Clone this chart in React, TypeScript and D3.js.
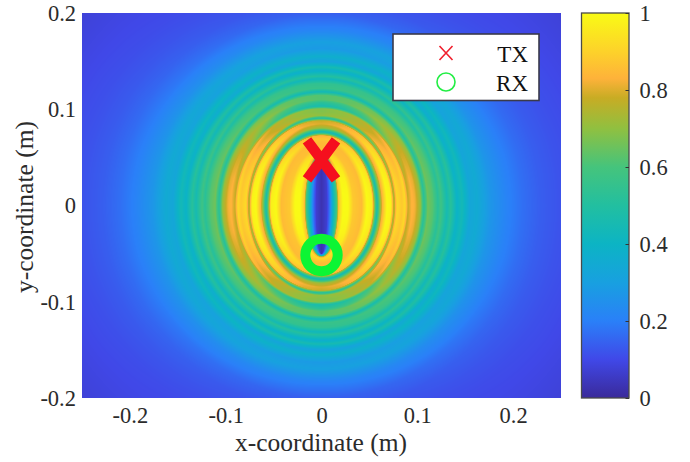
import * as d3 from 'd3';
import { useRef, useEffect } from 'react';

// --- Data ---
const xTicks = [-0.2, -0.1, 0, 0.1, 0.2];
const yTicks = [-0.2, -0.1, 0, 0.1, 0.2];
const colorTicks = [0, 0.2, 0.4, 0.6, 0.8, 1];

const colorStops = [0, 0.1, 0.2, 0.3, 0.4, 0.5, 0.6, 0.7, 0.78, 0.83, 0.9, 1];
const colorHexes = ['#3a2a9a', '#4048e8', '#2a80f8', '#18a0e0', '#0cb4c4', '#22bfa0', '#45c47c', '#90c040', '#c8ac24', '#feb23a', '#fdd22a', '#f9fb15'];

// rings are ellipses around TX and RX, indexed by where they cross the x axis (m)
const ringStops = [0, 0.0057, 0.009, 0.012, 0.016, 0.018, 0.0225, 0.0277, 0.033, 0.042, 0.0475, 0.0527, 0.056, 0.058, 0.06, 0.0632, 0.0684, 0.0725, 0.0757, 0.0788, 0.084, 0.0872, 0.0903, 0.0945, 0.0976, 0.103, 0.107, 0.111, 0.1164, 0.1216, 0.1247, 0.131, 0.135, 0.1414, 0.1467, 0.155, 0.1623, 0.176, 0.1936, 0.21, 0.228, 0.249, 0.316];
// level of each ring on the x axis
const sideValues = [0.03, 0.07, 0.2, 0.4, 0.6, 0.88, 1, 1, 0.88, 0.85, 1, 0.97, 0.62, 0.47, 0.62, 0.82, 1, 0.98, 0.74, 0.92, 0.88, 0.92, 0.78, 0.84, 0.82, 0.72, 0.52, 0.66, 0.62, 0.52, 0.58, 0.45, 0.52, 0.39, 0.44, 0.33, 0.35, 0.27, 0.21, 0.17, 0.14, 0.12, 0.08];
// level of the same ring on the y axis
const topValues = [0.03, 0.05, 0.15, 0.3, 0.5, 0.75, 0.92, 0.88, 0.85, 0.85, 0.87, 0.83, 0.55, 0.43, 0.55, 0.72, 0.8, 0.78, 0.5, 0.7, 0.68, 0.68, 0.46, 0.52, 0.62, 0.62, 0.43, 0.56, 0.54, 0.42, 0.5, 0.37, 0.45, 0.31, 0.37, 0.28, 0.3, 0.21, 0.14, 0.11, 0.1, 0.09, 0.08];
// how far a point leans to the y-axis level, by angle around the ellipse (deg)
const angleStops = [0, 15, 30, 45, 60, 75, 90];
const angleBlend = [0, 0.04, 0.18, 0.42, 0.68, 0.9, 1];

const focusGap = 0.05;
const txPoint = [0, 0.0475];
const rxPoint = [0, -0.0515];
const legendLabels = ['TX', 'RX'];

export default function App() {
  const ref = useRef<SVGSVGElement>(null);

  useEffect(() => {
    const width = 690;
    const height = 462;
    const left = 82, right = 561, top = 13, bottom = 398;
    const barLeft = 581.5, barRight = 629;
    const font = "'Liberation Serif', serif";
    const textColor = '#2b2b2b';

    const x = d3.scaleLinear().domain([-0.25, 0.25]).range([left, right]);
    const y = d3.scaleLinear().domain([-0.2, 0.2]).range([bottom, top]);
    const c = d3.scaleLinear().domain([0, 1]).range([bottom, top]);
    const color = d3.scaleLinear<string>().domain(colorStops).range(colorHexes).interpolate(d3.interpolateRgb);

    const side = d3.scaleLinear().domain(ringStops).range(sideValues).clamp(true);
    const over = d3.scaleLinear().domain(ringStops).range(topValues).clamp(true);
    const blend = d3.scaleLinear().domain(angleStops).range(angleBlend);

    // lookup so we dont parse a colour string per pixel
    const lut = d3.range(1024).map(i => d3.rgb(color(i / 1023)));

    const w = right - left, h = bottom - top;
    const canvas = document.createElement('canvas');
    canvas.width = w;
    canvas.height = h;
    const ctx = canvas.getContext('2d')!;
    const img = ctx.createImageData(w, h);
    for (let j = 0; j < h; j++) {
      for (let i = 0; i < w; i++) {
        const px = x.invert(left + i + 0.5);
        const py = y.invert(top + j + 0.5);
        const a = (Math.hypot(px, py - focusGap) + Math.hypot(px, py + focusGap)) / 2;
        const b = Math.sqrt(Math.max(a * a - focusGap * focusGap, 0));
        const t = Math.atan2(Math.abs(py) / a, b > 0 ? Math.abs(px) / b : 1) * 180 / Math.PI;
        const k = blend(t);
        const v = side(b) * (1 - k) + over(b) * k;
        const col = lut[Math.round(Math.min(Math.max(v, 0), 1) * 1023)];
        const o = (j * w + i) * 4;
        img.data[o] = col.r;
        img.data[o + 1] = col.g;
        img.data[o + 2] = col.b;
        img.data[o + 3] = 255;
      }
    }
    ctx.putImageData(img, 0, 0);

    const svg = d3.select(ref.current)
      .attr('width', width)
      .attr('height', height)
      .attr('viewBox', `0 0 ${width} ${height}`)
      .style('position', 'absolute')
      .style('left', 0)
      .style('top', 0)
      .style('font-family', font);

    svg.selectAll('*').remove();

    svg.append('rect').attr('width', width).attr('height', height).attr('fill', '#fff');

    svg.append('image')
      .attr('x', left).attr('y', top).attr('width', w).attr('height', h)
      .attr('href', canvas.toDataURL());

    // --- Axes ---
    const styleTicks = g => g.selectAll('.tick text')
      .attr('font-size', 22.5)
      .attr('font-family', font)
      .attr('fill', textColor);

    svg.append('g')
      .attr('transform', `translate(0,${bottom})`)
      .call(d3.axisBottom(x).tickValues(xTicks).tickSize(0).tickFormat(d => String(d)))
      .call(g => g.select('.domain').remove())
      .call(styleTicks)
      .call(g => g.selectAll('.tick text').attr('y', 25).attr('dy', 0));

    svg.append('g')
      .attr('transform', `translate(${left},0)`)
      .call(d3.axisLeft(y).tickValues(yTicks).tickSize(0).tickFormat(d => String(d)))
      .call(g => g.select('.domain').remove())
      .call(styleTicks)
      .call(g => g.selectAll('.tick text').attr('x', -6).attr('dy', '0.33em'));

    svg.append('text')
      .attr('x', 321).attr('y', 451)
      .attr('text-anchor', 'middle')
      .attr('font-size', 25.5)
      .attr('fill', textColor)
      .text('x-coordinate (m)');

    svg.append('text')
      .attr('transform', 'translate(33,207) rotate(-90)')
      .attr('text-anchor', 'middle')
      .attr('font-size', 25.5)
      .attr('fill', textColor)
      .text('y-coordinate (m)');

    // --- Markers on the map ---
    const xMark = (cx, cy, rx, ry) => {
      const line = d3.path();
      line.moveTo(cx - rx, cy - ry);
      line.lineTo(cx + rx, cy + ry);
      line.moveTo(cx + rx, cy - ry);
      line.lineTo(cx - rx, cy + ry);
      return line.toString();
    };

    svg.append('path')
      .attr('d', xMark(x(txPoint[0]), y(txPoint[1]), 14.5, 19.5))
      .attr('fill', 'none')
      .attr('stroke', '#f50f1e')
      .attr('stroke-width', 10.5);

    svg.append('circle')
      .attr('cx', x(rxPoint[0]))
      .attr('cy', y(rxPoint[1]))
      .attr('r', 16.2)
      .attr('fill', 'none')
      .attr('stroke', '#0cf534')
      .attr('stroke-width', 10);

    // --- Legend ---
    const legend = svg.append('g');
    legend.append('rect')
      .attr('x', 393).attr('y', 34).attr('width', 146).attr('height', 66.5)
      .attr('fill', '#fff')
      .attr('stroke', '#3a3a4a')
      .attr('stroke-width', 1.6);
    legend.append('path')
      .attr('d', xMark(446, 53, 6.5, 7))
      .attr('fill', 'none')
      .attr('stroke', '#f0202e')
      .attr('stroke-width', 1.6);
    legend.append('circle')
      .attr('cx', 446).attr('cy', 82).attr('r', 9)
      .attr('fill', 'none')
      .attr('stroke', '#22ee44')
      .attr('stroke-width', 1.6);
    legend.selectAll('text.label')
      .data(legendLabels)
      .join('text')
      .attr('class', 'label')
      .attr('x', 528)
      .attr('y', (d, i) => 61.5 + i * 29)
      .attr('text-anchor', 'end')
      .attr('font-size', 23)
      .attr('fill', '#111')
      .text(d => d);

    // --- Colorbar ---
    const grad = svg.append('defs').append('linearGradient')
      .attr('id', 'bar-gradient')
      .attr('x1', 0).attr('y1', 1).attr('x2', 0).attr('y2', 0);
    grad.selectAll('stop')
      .data(colorStops)
      .join('stop')
      .attr('offset', d => d)
      .attr('stop-color', d => color(d));

    svg.append('rect')
      .attr('x', barLeft).attr('y', top).attr('width', barRight - barLeft).attr('height', h)
      .attr('fill', 'url(#bar-gradient)')
      .attr('stroke', '#4a4a4a')
      .attr('stroke-width', 1.3);

    svg.append('g')
      .attr('transform', `translate(${barRight},0)`)
      .call(d3.axisRight(c).tickValues(colorTicks).tickSize(-3.5).tickFormat(d => String(d)))
      .call(g => g.select('.domain').remove())
      .call(g => g.selectAll('.tick line').attr('stroke', '#333'))
      .call(styleTicks)
      .call(g => g.selectAll('.tick text').attr('x', 10.5).attr('dy', '0.33em'));
  }, []);

  return <svg ref={ref}></svg>;
}
